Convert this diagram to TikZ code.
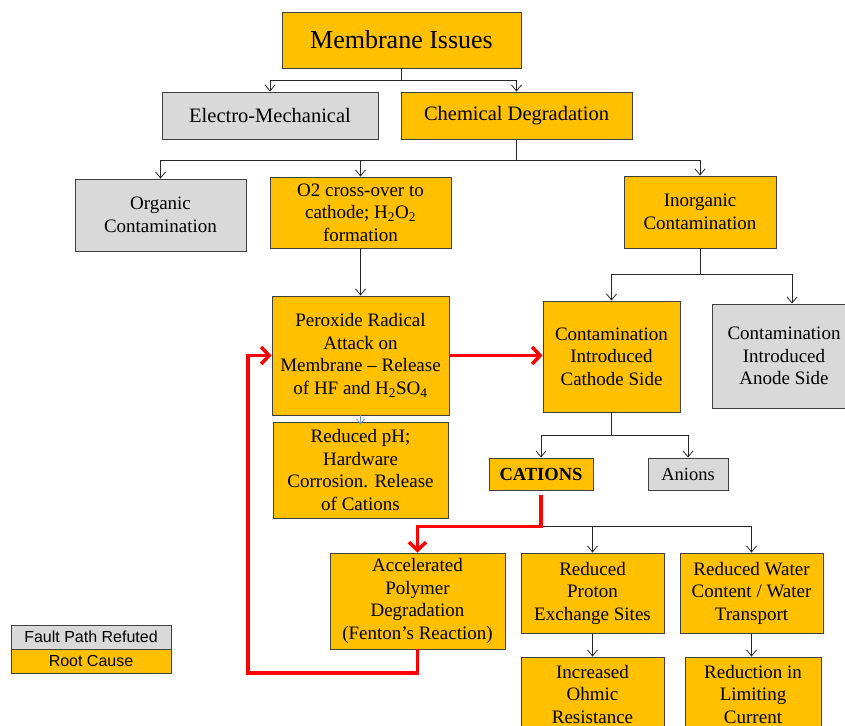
\documentclass[tikz,border=0pt]{standalone}
\usepackage{fontspec}
\setmainfont{Liberation Serif}
\newfontfamily\legendfont{Liberation Sans}
\usetikzlibrary{arrows.meta,calc}
\definecolor{rootc}{HTML}{FFC000}
\definecolor{refc}{HTML}{D9D9D9}
\definecolor{edgec}{HTML}{404040}
\definecolor{bluec}{HTML}{6F95C8}
\definecolor{redc}{HTML}{FF0000}
\tikzset{
  box/.style={draw=edgec, line width=0.9pt, align=center, inner sep=0pt,
    font=\fontsize{19}{22.5}\selectfont},
  root/.style={box, fill=rootc},
  refuted/.style={box, fill=refc},
  conn/.style={draw=black!85, line width=0.8pt, -{Straight Barb[length=6pt,width=10pt]}},
  blueconn/.style={draw=bluec, line width=0.8pt, -{Straight Barb[length=5pt,width=8pt]}},
  redarr/.style={draw=redc, line width=3.5pt, line join=miter,
    -{Straight Barb[length=8pt,width=17pt,line width=3.5pt]}},
  legbox/.style={draw=edgec, line width=0.9pt, inner sep=0pt,
    minimum width=160pt, minimum height=24pt,
    font=\legendfont\fontsize{16}{19}\selectfont}
}
\begin{document}
\begin{tikzpicture}[x=1pt,y=-1pt]
\useasboundingbox (0,0) rectangle (845,725);

% nodes
\node[root, minimum width=239, minimum height=56, font=\fontsize{26}{30}\selectfont] (mi) at (401.5,40) {Membrane Issues};
\node[refuted, minimum width=216, minimum height=47, font=\fontsize{20.5}{24}\selectfont] (em) at (270,115.5) {Electro-Mechanical};
\node[root, minimum width=231, minimum height=47, font=\fontsize{20.5}{24}\selectfont] (cd) at (516.5,115.5) {Chemical Degradation};
\node[refuted, minimum width=171, minimum height=72] (org) at (160.5,215) {Organic\\Contamination};
\node[root, minimum width=181, minimum height=71] (o2) at (360.5,212.5) {O2 cross-over to\\cathode; H\textsubscript{2}O\textsubscript{2}\\formation};
\node[root, minimum width=152, minimum height=72] (ino) at (700,212) {Inorganic\\Contamination};
\node[root, minimum width=177, minimum height=119] (per) at (360.5,355.5) {Peroxide Radical\\Attack on\\Membrane -- Release\\of HF and H\textsubscript{2}SO\textsubscript{4}};
\node[root, minimum width=137, minimum height=111] (cat) at (611.5,356.5) {Contamination\\Introduced\\Cathode Side};
\node[refuted, minimum width=144, minimum height=104] (an) at (784,356) {Contamination\\Introduced\\Anode Side};
\node[root, minimum width=175, minimum height=96] (rph) at (360.5,470) {Reduced pH;\\Hardware\\Corrosion. Release\\of Cations};
\node[root, minimum width=104, minimum height=32, font=\fontsize{18.5}{22}\selectfont\bfseries] (cati) at (541,474) {CATIONS};
\node[refuted, minimum width=80, minimum height=32, font=\fontsize{18.5}{22}\selectfont] (ani) at (688,474) {Anions};
\node[root, minimum width=175, minimum height=96] (acc) at (417.5,601) {Accelerated\\Polymer\\Degradation\\(Fenton’s Reaction)};
\node[root, minimum width=143, minimum height=80] (rps) at (592.5,593) {Reduced\\Proton\\Exchange Sites};
\node[root, minimum width=143, minimum height=80] (rwc) at (751.5,593) {Reduced Water\\Content / Water\\Transport};
\node[root, minimum width=143, minimum height=74] (ohm) at (592.5,694) {Increased\\Ohmic\\Resistance};
\node[root, minimum width=136, minimum height=74] (lim) at (753,694) {Reduction in\\Limiting\\Current};

% legend
\node[legbox, fill=refc] (leg1) at (91,637) {Fault Path Refuted};
\node[legbox, fill=rootc] (leg2) at (91,661) {Root Cause};

% black connectors
\coordinate (mij) at ($(mi.south)+(0,12)$);
\draw[conn] (mi.south) -- (mij) -| (em.north);
\draw[conn] (mij) -| (cd.north);
\coordinate (cdj) at ($(cd.south)+(0,21)$);
\draw[conn] (cd.south) -- (cdj) -| (org.north);
\draw[conn] (cdj) -| (o2.north);
\draw[conn] (cdj) -| (ino.north);
\draw[conn] (o2.south) -- (per.north);
\coordinate (inj) at ($(ino.south)+(0,26)$);
\coordinate (ant) at ($(an.north)+(8,0)$);
\draw[conn] (ino.south) -- (inj) -| (cat.north);
\draw[conn] (inj) -| (ant);
\coordinate (caj) at ($(cat.south)+(0,23)$);
\draw[conn] (cat.south) -- (caj) -| (cati.north);
\draw[conn] (caj) -| (ani.north);
\coordinate (ctj) at ($(cati.south)+(0,36)$);
\draw[conn] (ctj) -| (rps.north);
\draw[conn] (ctj) -| (rwc.north);
\draw[conn] (rps.south) -- (ohm.north);
\draw[conn] (rwc.south) -- (rwc.south |- lim.north);
\draw[blueconn] (per.south) -- ($(rph.north)+(0,3)$);

% red fault path
\coordinate (cts) at ($(cati.south)+(0,5)$);
\draw[redarr] (cts) -- (ctj) -| (acc.north);
\draw[redarr] (per.east) -- (per.east -| cat.west);
\coordinate (lpl) at (248,673);
\draw[redarr] (acc.south) |- (lpl) |- (per.west);
\end{tikzpicture}
\end{document}
